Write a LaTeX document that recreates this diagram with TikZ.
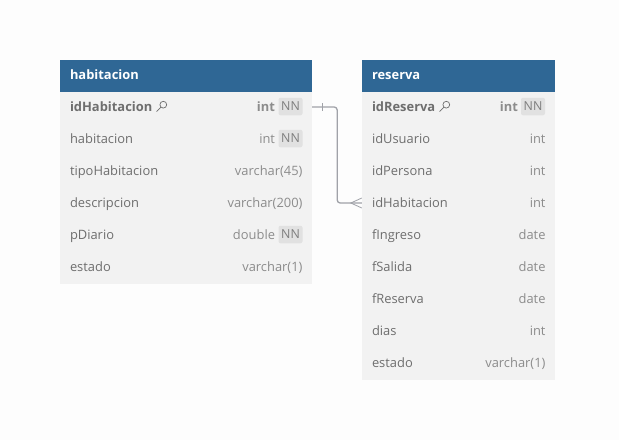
\documentclass[tikz,border=0pt]{standalone}
\usepackage{fontspec}
\setmainfont{Open Sans}
\definecolor{pagebg}{HTML}{FDFDFD}
\definecolor{headblue}{HTML}{2F6795}
\definecolor{rowbg}{HTML}{F2F2F2}
\definecolor{badgebg}{HTML}{E1E1E1}
\definecolor{fieldgray}{HTML}{6E6E6E}
\definecolor{typegray}{HTML}{8C8C8C}
\definecolor{linkgray}{HTML}{A0A2A8}
\tikzstyle{cell}=[%
	rectangle, inner xsep=10pt, inner ysep=0pt, minimum height=32pt, anchor=center,
	text height=10pt, text depth=3pt, font=\fontsize{12.9}{15}\selectfont, align=left
]
\tikzstyle{habwidth}=[text width=232pt]
\tikzstyle{reswidth}=[text width=173pt]
\tikzstyle{head}=[cell, fill=headblue, text=white, font=\fontsize{12.9}{15}\selectfont\bfseries]
\tikzstyle{row}=[cell, fill=rowbg, text=fieldgray]
\tikzstyle{pkrow}=[row, font=\fontsize{12.9}{15}\selectfont\bfseries]
\tikzstyle{ftype}=[inner sep=0pt, anchor=east, xshift=-9.5pt, text=typegray,
	text height=10pt, text depth=3pt, font=\fontsize{12.9}{15}\selectfont]
\tikzstyle{ftypenn}=[ftype, xshift=-27.5pt]
\tikzstyle{pktype}=[ftypenn, font=\fontsize{12.9}{15}\selectfont\bfseries]
\tikzstyle{badge}=[rectangle, rounded corners=2pt, fill=badgebg, text=typegray!90!black, inner sep=0pt,
	minimum width=24pt, minimum height=17.5pt, font=\fontsize{12.4}{14}\selectfont]
\tikzstyle{keyline}=[draw=fieldgray, line width=0.7pt]
\tikzstyle{link}=[draw=linkgray, line width=1.3pt]

\begin{document}
\begin{tikzpicture}[x=1pt, y=-1pt]
	\useasboundingbox[fill=pagebg] (0,0) rectangle (619,440);

	\node[head, habwidth] (habHead) at (186,76) {habitacion};
	\node[pkrow, habwidth, label={[pktype, name=habType1]east:int}] (habRow1) at (186,108) {idHabitacion};
	\node[row, habwidth, label={[ftypenn, name=habType2]east:int}] (habRow2) at (186,140) {habitacion};
	\node[row, habwidth, label={[ftype, name=habType3]east:varchar(45)}] (habRow3) at (186,172) {tipoHabitacion};
	\node[row, habwidth, label={[ftype, name=habType4]east:varchar(200)}] (habRow4) at (186,204) {descripcion};
	\node[row, habwidth, label={[ftypenn, name=habType5]east:double}] (habRow5) at (186,236) {pDiario};
	\node[row, habwidth, label={[ftype, name=habType6]east:varchar(1)}] (habRow6) at (186,268) {estado};

	\node[badge] (habNN1) at (290.5,106.5) {NN};
	\node[badge] (habNN2) at (290.5,138.5) {NN};
	\node[badge] (habNN5) at (290.5,234.5) {NN};

	\node[head, reswidth] (resHead) at (458.5,76) {reserva};
	\node[pkrow, reswidth, label={[pktype, name=resType1]east:int}] (resRow1) at (458.5,108) {idReserva};
	\node[row, reswidth, label={[ftype, name=resType2]east:int}] (resRow2) at (458.5,140) {idUsuario};
	\node[row, reswidth, label={[ftype, name=resType3]east:int}] (resRow3) at (458.5,172) {idPersona};
	\node[row, reswidth, label={[ftype, name=resType4]east:int}] (resRow4) at (458.5,204) {idHabitacion};
	\node[row, reswidth, label={[ftype, name=resType5]east:date}] (resRow5) at (458.5,236) {fIngreso};
	\node[row, reswidth, label={[ftype, name=resType6]east:date}] (resRow6) at (458.5,268) {fSalida};
	\node[row, reswidth, label={[ftype, name=resType7]east:date}] (resRow7) at (458.5,300) {fReserva};
	\node[row, reswidth, label={[ftype, name=resType8]east:int}] (resRow8) at (458.5,332) {dias};
	\node[row, reswidth, label={[ftype, name=resType9]east:varchar(1)}] (resRow9) at (458.5,364) {estado};

	\node[badge] (resNN1) at (533,106.5) {NN};

	% key icons
	\draw[keyline] (163.3,104.7) circle (3.4);
	\draw[keyline] (160.9,107.1) -- (156.6,111.6);
	\draw[keyline] (446.3,104.7) circle (3.4);
	\draw[keyline] (443.9,107.1) -- (439.6,111.6);

	% relation
	\draw[link, rounded corners=3pt] (habRow1.east) ++(0,-1) -- ++(25,0) |- ([yshift=1pt]resRow4.west);
	\draw[link, line width=0.8pt] (habRow1.east) ++(10,-5) -- ++(0,8);
	\draw[link, line width=0.8pt] (resRow4.west) ++(0,-6) -- ++(-11,5) -- ++(11,5);
\end{tikzpicture}
\end{document}
